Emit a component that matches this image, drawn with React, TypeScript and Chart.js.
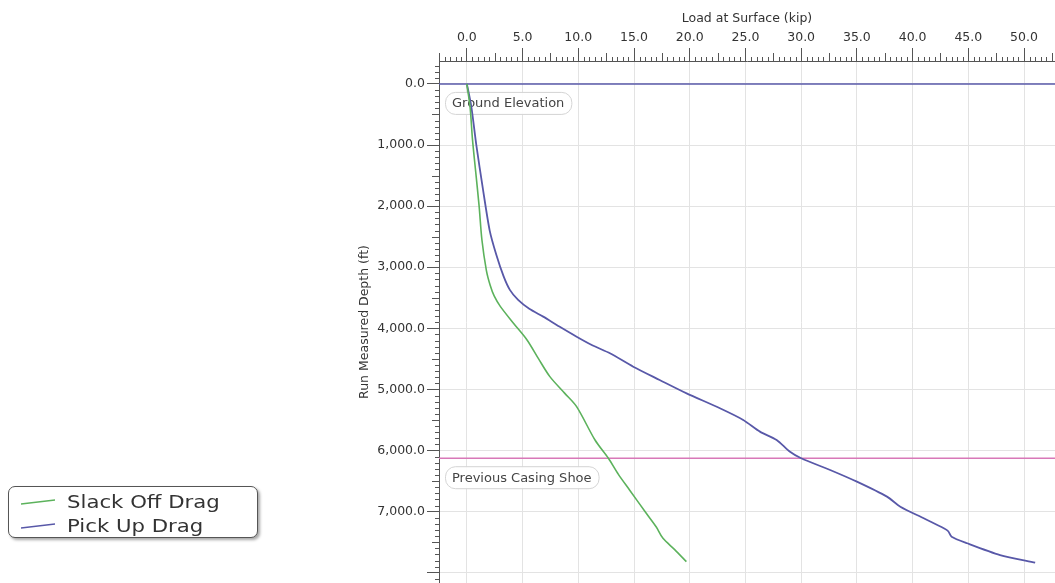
import React, { useEffect, useRef } from 'react';
import { Chart, registerables } from 'chart.js';

Chart.register(...registerables);

// ---- data ----
const xTickValues = [0, 5, 10, 15, 20, 25, 30, 35, 40, 45, 50];
const yTickValues = [0, 1000, 2000, 3000, 4000, 5000, 6000, 7000, 8000];
const yTickHiddenLabels = [8000];

const slackOffLoad = [0, 0.3, 0.5, 0.8, 1.1, 1.35, 1.75, 2.1, 2.45, 3.0, 4.2, 5.4, 6.44, 7.45, 8.77, 9.85, 11.5, 12.7, 13.6, 14.6, 16.1, 17.0, 17.6, 18.65, 19.7];
const slackOffDepth = [0, 400, 900, 1450, 2000, 2550, 3050, 3300, 3470, 3640, 3920, 4190, 4500, 4790, 5060, 5281, 5827, 6126, 6390, 6645, 7026, 7250, 7436, 7620, 7818];

const pickUpLoad = [0, 0.4, 0.85, 1.45, 2.05, 2.65, 3.3, 3.86, 4.6, 5.6, 6.85, 8.3, 9.85, 11.3, 12.84, 14.93, 17.3, 19.72, 22.71, 24.8, 26.3, 27.8, 29.0, 30.0, 32.6, 35.0, 37.7, 38.9, 41.0, 42.8, 43.2, 43.5, 44.9, 47.85, 51.0];
const pickUpDepth = [0, 370, 1000, 1730, 2400, 2800, 3150, 3370, 3535, 3680, 3808, 3970, 4136, 4280, 4408, 4627, 4844, 5063, 5308, 5499, 5690, 5827, 6020, 6126, 6318, 6509, 6754, 6918, 7108, 7272, 7320, 7409, 7517, 7709, 7834];

const markerDepths = [0, 6125];
const markerLabels = ['Ground Elevation', 'Previous Casing Shoe'];
const markerColors = ['#5a5aaa', '#d878b8'];

const seriesNames = ['Slack Off Drag', 'Pick Up Drag'];
const seriesColors = ['#5cb25c', '#5858a8'];

const X_MIN = -2.5;
const X_MAX = 52.78;
const Y_MIN = -375;
const Y_MAX = 8167;

const FONT = 'DejaVu Sans';

const markersPlugin = {
  id: 'markers',
  beforeDatasetsDraw(chart: any) {
    const { ctx, chartArea, scales } = chart;
    const y = scales.y;
    ctx.save();
    markerDepths.forEach((d, i) => {
      const py = y.getPixelForValue(d);
      ctx.strokeStyle = markerColors[i];
      ctx.lineWidth = 1.5;
      ctx.beginPath();
      ctx.moveTo(chartArea.left, py);
      ctx.lineTo(chartArea.right, py);
      ctx.stroke();
      ctx.font = `13px "${FONT}"`;
      const tw = ctx.measureText(markerLabels[i]).width;
      const bx = chartArea.left + 6;
      const by = py + 8;
      const bw = tw + 14;
      const bh = 22;
      ctx.beginPath();
      (ctx as any).roundRect(bx + 0.5, by + 0.5, bw, bh, 10);
      ctx.fillStyle = 'rgba(255,255,255,0.92)';
      ctx.fill();
      ctx.strokeStyle = '#d4d4d4';
      ctx.lineWidth = 1;
      ctx.stroke();
      ctx.fillStyle = '#444';
      ctx.textBaseline = 'middle';
      ctx.textAlign = 'left';
      ctx.fillText(markerLabels[i], bx + 7, by + bh / 2 + 1);
    });
    ctx.restore();
  },
};

const minorTicksPlugin = {
  id: 'minorTicks',
  afterDraw(chart: any) {
    const { ctx, chartArea, scales } = chart;
    const x = scales.x;
    const y = scales.y;
    ctx.save();
    ctx.strokeStyle = '#555';
    ctx.lineWidth = 1;
    ctx.beginPath();
    for (let i = Math.ceil(X_MIN / 0.5); i * 0.5 <= X_MAX; i++) {
      if (i % 10 === 0) continue;
      const len = i % 5 === 0 ? 8 : 4;
      const px = Math.round(x.getPixelForValue(i * 0.5)) + 0.5;
      ctx.moveTo(px, chartArea.top);
      ctx.lineTo(px, chartArea.top - len);
    }
    for (let j = Math.ceil(Y_MIN / 100); j * 100 <= Y_MAX; j++) {
      if (j % 10 === 0) continue;
      const len = j % 5 === 0 ? 7 : 4;
      const py = Math.round(y.getPixelForValue(j * 100)) + 0.5;
      ctx.moveTo(chartArea.left, py);
      ctx.lineTo(chartArea.left - len, py);
    }
    ctx.stroke();
    ctx.restore();
  },
};

function LegendLine({ color }: { color: string }) {
  return (
    <svg width={40} height={10} style={{ display: 'block' }}>
      <line x1={2} y1={7} x2={36} y2={3} stroke={color} strokeWidth={1.5} />
    </svg>
  );
}

export default function App() {
  const ref = useRef<HTMLCanvasElement>(null);

  useEffect(() => {
    const canvas = ref.current;
    if (!canvas) return;
    const chart = new Chart(canvas, {
      type: 'line',
      data: {
        datasets: [
          {
            label: seriesNames[0],
            data: slackOffLoad.map((v, i) => ({ x: v, y: slackOffDepth[i] })),
            borderColor: seriesColors[0],
            backgroundColor: seriesColors[0],
            borderWidth: 1.6,
            pointRadius: 0,
            tension: 0.3,
          },
          {
            label: seriesNames[1],
            data: pickUpLoad.map((v, i) => ({ x: v, y: pickUpDepth[i] })),
            borderColor: seriesColors[1],
            backgroundColor: seriesColors[1],
            borderWidth: 1.8,
            pointRadius: 0,
            tension: 0.25,
          },
        ],
      },
      options: {
        responsive: false,
        animation: false,
        layout: { padding: { left: 352, top: 5, right: 0, bottom: 0 } },
        plugins: {
          legend: { display: false },
          tooltip: { enabled: false },
        },
        scales: {
          x: {
            type: 'linear',
            position: 'top',
            min: X_MIN,
            max: X_MAX,
            afterBuildTicks: (s: any) => {
              s.ticks = xTickValues.map((v) => ({ value: v }));
            },
            afterFit: (s: any) => {
              s.height = 56;
              s.paddingLeft = 0;
              s.paddingRight = 0;
            },
            ticks: {
              autoSkip: false,
              maxRotation: 0,
              padding: 3,
              color: '#333',
              font: { family: FONT, size: 12.5 },
              callback: (v: any) => Number(v).toFixed(1),
            },
            grid: {
              color: '#e3e3e3',
              tickColor: '#555',
              tickLength: 13,
            },
            border: { display: true, color: '#555', width: 1 },
            title: {
              display: true,
              text: 'Load at Surface (kip)',
              color: '#333',
              font: { family: FONT, size: 12.5 },
              padding: { top: 6.5, bottom: 0 },
            },
          },
          y: {
            type: 'linear',
            reverse: true,
            min: Y_MIN,
            max: Y_MAX,
            afterBuildTicks: (s: any) => {
              s.ticks = yTickValues.map((v) => ({ value: v }));
            },
            afterFit: (s: any) => {
              s.width = 439 - 352;
              s.paddingTop = 0;
              s.paddingBottom = 0;
            },
            ticks: {
              autoSkip: false,
              padding: 2,
              color: '#333',
              font: { family: FONT, size: 12.5 },
              callback: (v: any) =>
                yTickHiddenLabels.includes(Number(v))
                  ? ''
                  : Number(v).toLocaleString('en-US', { minimumFractionDigits: 1, maximumFractionDigits: 1 }),
            },
            grid: {
              color: '#e3e3e3',
              tickColor: '#555',
              tickLength: 12,
            },
            border: { display: true, color: '#555', width: 1 },
            title: {
              display: true,
              text: 'Run Measured Depth (ft)',
              color: '#333',
              font: { family: FONT, size: 12.5 },
              padding: { top: 5, bottom: 0 },
            },
          },
        },
      },
      plugins: [markersPlugin, minorTicksPlugin],
    } as any);
    return () => chart.destroy();
  }, []);

  return (
    <div style={{ position: 'fixed', left: 0, top: 0, width: 1055, height: 583, overflow: 'hidden', background: '#fff' }}>
      <canvas ref={ref} width={1055} height={583} style={{ position: 'absolute', left: 0, top: 0, width: 1055, height: 583 }} />
      <div
        style={{
          position: 'absolute',
          left: 8,
          top: 486,
          width: 250,
          height: 52,
          border: '1.5px solid #555',
          borderRadius: 7,
          boxShadow: '2px 2px 3px rgba(0,0,0,0.35)',
          background: '#fff',
          fontFamily: FONT,
          fontSize: 18,
          color: '#333',
          boxSizing: 'border-box',
          paddingTop: 3,
        }}
      >
        {seriesNames.map((name, i) => (
          <div key={name} style={{ display: 'flex', alignItems: 'center', height: 24 }}>
            <div style={{ marginLeft: 10, width: 48 }}>
              <LegendLine color={seriesColors[i]} />
            </div>
            <span style={{ display: 'inline-block', transform: 'scaleX(1.18)', transformOrigin: 'left center', whiteSpace: 'nowrap', lineHeight: '24px' }}>
              {name}
            </span>
          </div>
        ))}
      </div>
    </div>
  );
}
